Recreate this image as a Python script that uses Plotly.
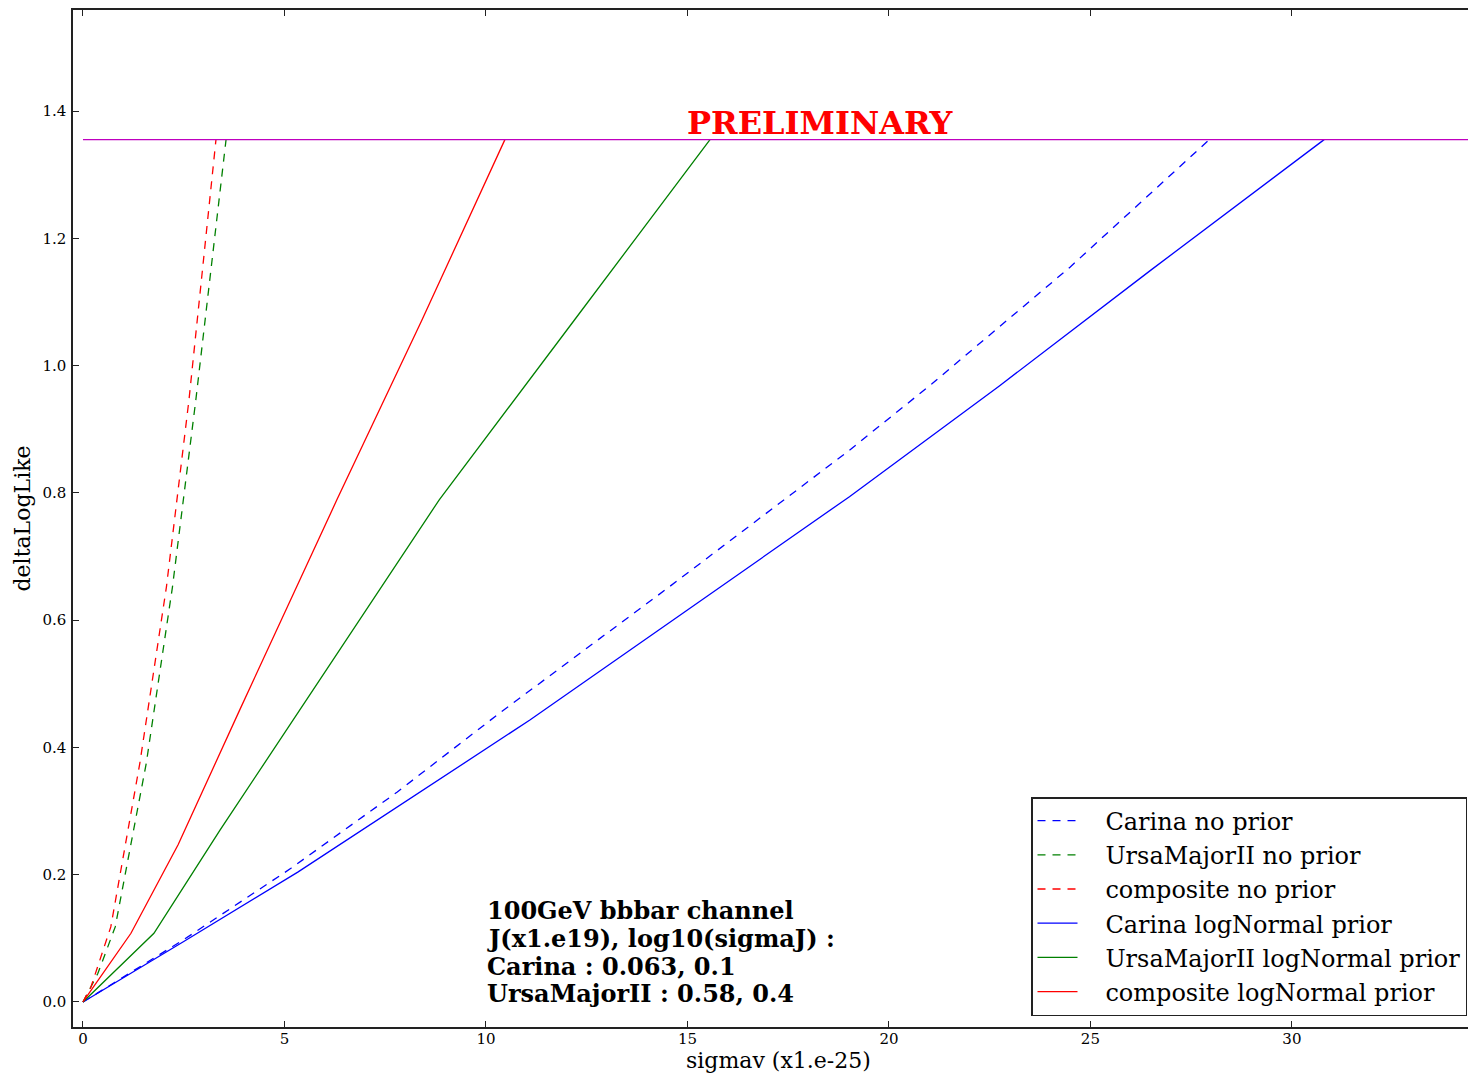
import plotly.graph_objects as go

# sigmav (x1.e-25) vs deltaLogLike for each likelihood curve
carina_noprior_x = [0, 2.5, 5.16, 7.8, 10.34, 14.5, 19.02, 21.06, 24.5, 27.95]
carina_noprior_y = [0, 0.098, 0.21, 0.33, 0.454, 0.65, 0.867, 0.971, 1.155, 1.355]

uma_noprior_x = [0, 0.37, 0.80, 1.57, 2.22, 2.80, 3.55]
uma_noprior_y = [0, 0.045, 0.118, 0.375, 0.652, 0.946, 1.355]

comp_noprior_x = [0, 0.2, 0.69, 1.41, 2.07, 2.63, 3.30]
comp_noprior_y = [0, 0.024, 0.118, 0.375, 0.652, 0.946, 1.355]

carina_lognorm_x = [0, 2.5, 5.33, 8.0, 11.09, 15.0, 19.02, 22.74, 26.5, 30.8]
carina_lognorm_y = [0, 0.095, 0.204, 0.315, 0.443, 0.616, 0.794, 0.968, 1.15, 1.355]

uma_lognorm_x = [0, 1.76, 3.4, 6.2, 8.84, 12.2, 15.56]
uma_lognorm_y = [0, 0.108, 0.27, 0.537, 0.789, 1.072, 1.355]

comp_lognorm_x = [0, 1.19, 2.36, 3.89, 6.30, 8.4, 10.47]
comp_lognorm_y = [0, 0.108, 0.247, 0.459, 0.789, 1.07, 1.355]

# 95% CL threshold on deltaLogLike
threshold = 1.355

# info box lines and their baselines (deltaLogLike units)
info_lines = [
    "100GeV bbbar channel",
    "J(x1.e19), log10(sigmaJ) :",
    "Carina : 0.063, 0.1",
    "UrsaMajorII : 0.58, 0.4",
]
info_baselines = [0.132, 0.088, 0.044, 0.0015]

x_ticks = [0, 5, 10, 15, 20, 25, 30]
y_ticks = [0.0, 0.2, 0.4, 0.6, 0.8, 1.0, 1.2, 1.4]
x_range = [-0.248, 34.37]
y_range = [-0.0393, 1.5587]

FONT = "DejaVu Serif"
BLUE, GREEN, RED, MAGENTA = "#0000ff", "#008000", "#ff0000", "#bf00bf"
DASH = "8px,7px"
PAD = "\u00a0" * 3

series = [
    ("Carina no prior", carina_noprior_x, carina_noprior_y, BLUE, DASH),
    ("UrsaMajorII no prior", uma_noprior_x, uma_noprior_y, GREEN, DASH),
    ("composite no prior", comp_noprior_x, comp_noprior_y, RED, DASH),
    ("Carina logNormal prior", carina_lognorm_x, carina_lognorm_y, BLUE, "solid"),
    ("UrsaMajorII logNormal prior", uma_lognorm_x, uma_lognorm_y, GREEN, "solid"),
    ("composite logNormal prior", comp_lognorm_x, comp_lognorm_y, RED, "solid"),
]

fig = go.Figure()

for i, (name, xs, ys, color, dash) in enumerate(series):
    fig.add_trace(go.Scatter(
        x=xs, y=ys, mode="lines", name=PAD + name, legendgroup=f"g{i}",
        line=dict(color=color, width=1.3, dash=dash),
    ))

fig.add_trace(go.Scatter(
    x=[0, x_range[1] + 5], y=[threshold, threshold], mode="lines",
    line=dict(color=MAGENTA, width=1.4), showlegend=False, hoverinfo="skip",
))

fig.add_annotation(
    x=18.29, y=threshold, xref="x", yref="y", yanchor="bottom", yshift=-4,
    text="<b>PRELIMINARY</b>", showarrow=False,
    font=dict(family=FONT, size=32, color="#ff0000"),
)

for line, base in zip(info_lines, info_baselines):
    fig.add_annotation(
        x=9.98, y=base, xref="x", yref="y", xanchor="left", yanchor="bottom", yshift=-9,
        align="left", showarrow=False, text=f"<b>{line}</b>",
        font=dict(family=FONT, size=24, color="black"),
    )

# axis titles
fig.add_annotation(
    x=(778 - 73) / 1395, y=-0.033, xref="paper", yref="paper",
    xanchor="center", yanchor="middle", showarrow=False, text="sigmav (x1.e-25)",
    font=dict(family=FONT, size=22, color="black"),
)
fig.add_annotation(
    x=(22 - 73) / 1395, y=0.5, xref="paper", yref="paper", textangle=-90,
    xanchor="center", yanchor="middle", showarrow=False, text="deltaLogLike",
    font=dict(family=FONT, size=22, color="black"),
)

axis_common = dict(
    showgrid=False, zeroline=False, showline=True, linecolor="#222222", linewidth=1.5,
    ticks="inside", ticklen=6, tickwidth=1, tickcolor="#222222",
    tickfont=dict(family=FONT, size=15, color="black"),
)

fig.update_xaxes(range=x_range, tickvals=x_ticks, ticktext=[str(v) for v in x_ticks],
                 mirror="ticks", ticklabelstandoff=-3, **axis_common)
fig.update_yaxes(range=y_range, tickvals=y_ticks, ticktext=[f"{v:.1f}" for v in y_ticks],
                 mirror=False, ticklabelstandoff=2, **axis_common)

fig.update_layout(
    width=1468, height=1074,
    margin=dict(l=73, r=0, t=10, b=47, autoexpand=False),
    paper_bgcolor="white", plot_bgcolor="white",
    font=dict(family=FONT, color="black"),
    legend=dict(
        x=(1467 - 73) / 1395, y=(1027 - 1016) / 1017, xanchor="right", yanchor="bottom",
        bgcolor="white", bordercolor="#222222", borderwidth=1.5,
        font=dict(family=FONT, size=24, color="black"),
        tracegroupgap=0, itemwidth=40,
    ),
)

fig.write_html("out.html")
